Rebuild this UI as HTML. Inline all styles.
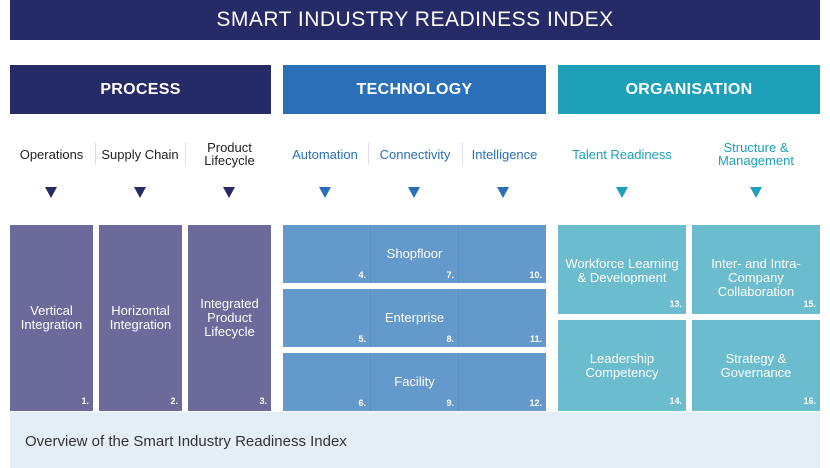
<!DOCTYPE html>
<html><head><meta charset="utf-8"><style>
body{margin:0;width:830px;height:468px;background:#fff;position:relative;overflow:hidden;font-family:"Liberation Sans",sans-serif}
div{position:absolute;box-sizing:border-box}
.c{display:flex;align-items:center;justify-content:center;text-align:center}
.hd{color:#fff;font-weight:bold;font-size:16px;letter-spacing:.3px}
.sub{font-size:13px;line-height:13px;top:140px;height:28px}
.tri{width:0;height:0;border-left:6px solid transparent;border-right:6px solid transparent;border-top:11px solid #262a66;top:187px}
.box{color:#fff;font-size:13px;line-height:14px}
.n{font-size:9px;font-weight:bold;color:#fff;right:4px;bottom:3px;position:absolute}
.sep{width:1px;background:#dde;top:143px;height:22px}
</style></head><body>
<div class="c" style="left:10px;top:0;width:810px;height:40px;background:#262a66;color:#fff;font-size:21px;letter-spacing:.5px">SMART INDUSTRY READINESS INDEX</div>

<div class="c hd" style="left:10px;top:65px;width:261px;height:49px;background:#262a66">PROCESS</div>
<div class="c hd" style="left:283px;top:65px;width:263px;height:49px;background:#2a70b8">TECHNOLOGY</div>
<div class="c hd" style="left:558px;top:65px;width:262px;height:49px;background:#1ea0b8">ORGANISATION</div>

<div class="c sub" style="left:10px;width:83px;color:#222">Operations</div>
<div class="sep" style="left:95px"></div>
<div class="c sub" style="left:96px;width:88px;color:#222">Supply Chain</div>
<div class="sep" style="left:185px"></div>
<div class="c sub" style="left:188px;width:83px;color:#222">Product<br>Lifecycle</div>
<div class="c sub" style="left:283px;width:84px;color:#2a70b8">Automation</div>
<div class="sep" style="left:368px"></div>
<div class="c sub" style="left:370px;width:90px;color:#2a70b8">Connectivity</div>
<div class="sep" style="left:462px"></div>
<div class="c sub" style="left:463px;width:83px;color:#2a70b8">Intelligence</div>
<div class="c sub" style="left:558px;width:128px;color:#1ea0b8">Talent Readiness</div>
<div class="c sub" style="left:692px;width:128px;color:#1ea0b8">Structure &amp;<br>Management</div>

<div class="tri" style="left:45px"></div>
<div class="tri" style="left:134px"></div>
<div class="tri" style="left:223px"></div>
<div class="tri" style="left:319px;border-top-color:#2a70b8"></div>
<div class="tri" style="left:408px;border-top-color:#2a70b8"></div>
<div class="tri" style="left:497px;border-top-color:#2a70b8"></div>
<div class="tri" style="left:616px;border-top-color:#1ea0b8"></div>
<div class="tri" style="left:750px;border-top-color:#1ea0b8"></div>

<div class="c box" style="left:10px;top:225px;width:83px;height:186px;background:#6b6a9a">Vertical<br>Integration<span class="n">1.</span></div>
<div class="c box" style="left:99px;top:225px;width:83px;height:186px;background:#6b6a9a">Horizontal<br>Integration<span class="n">2.</span></div>
<div class="c box" style="left:188px;top:225px;width:83px;height:186px;background:#6b6a9a">Integrated<br>Product<br>Lifecycle<span class="n">3.</span></div>

<div class="c box" style="left:283px;top:225px;width:263px;height:58px;background:#6499cc;align-items:flex-start;padding-top:22px">Shopfloor</div>
<div class="c box" style="left:283px;top:289px;width:263px;height:58px;background:#6499cc;align-items:flex-start;padding-top:22px">Enterprise</div>
<div class="c box" style="left:283px;top:353px;width:263px;height:58px;background:#6499cc;align-items:flex-start;padding-top:22px">Facility</div>
<div style="left:283px;top:225px;width:88px;height:58px;border-right:1px solid #5a8fc2"><span class="n">4.</span></div>
<div style="left:371px;top:225px;width:88px;height:58px;border-right:1px solid #5a8fc2"><span class="n">7.</span></div>
<div style="left:459px;top:225px;width:87px;height:58px"><span class="n">10.</span></div>
<div style="left:283px;top:289px;width:88px;height:58px;border-right:1px solid #5a8fc2"><span class="n">5.</span></div>
<div style="left:371px;top:289px;width:88px;height:58px;border-right:1px solid #5a8fc2"><span class="n">8.</span></div>
<div style="left:459px;top:289px;width:87px;height:58px"><span class="n">11.</span></div>
<div style="left:283px;top:353px;width:88px;height:58px;border-right:1px solid #5a8fc2"><span class="n">6.</span></div>
<div style="left:371px;top:353px;width:88px;height:58px;border-right:1px solid #5a8fc2"><span class="n">9.</span></div>
<div style="left:459px;top:353px;width:87px;height:58px"><span class="n">12.</span></div>

<div class="c box" style="left:558px;top:225px;width:128px;height:89px;background:#6bbccd;align-items:flex-start;padding-top:32px">Workforce Learning<br>&amp; Development<span class="n">13.</span></div>
<div class="c box" style="left:692px;top:225px;width:128px;height:89px;background:#6bbccd;align-items:flex-start;padding-top:32px">Inter- and Intra-<br>Company<br>Collaboration<span class="n">15.</span></div>
<div class="c box" style="left:558px;top:320px;width:128px;height:91px;background:#6bbccd;align-items:flex-start;padding-top:32px">Leadership<br>Competency<span class="n">14.</span></div>
<div class="c box" style="left:692px;top:320px;width:128px;height:91px;background:#6bbccd;align-items:flex-start;padding-top:32px">Strategy &amp;<br>Governance<span class="n">16.</span></div>

<div style="left:10px;top:412px;width:810px;height:56px;background:#e4eef6;color:#333;font-size:15px;padding:21px 0 0 15px">Overview of the Smart Industry Readiness Index</div>
</body></html>
